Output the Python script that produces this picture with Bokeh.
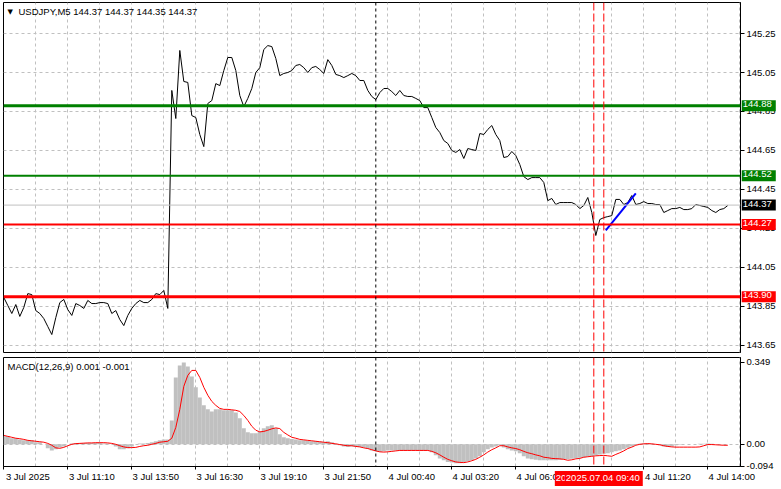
from bokeh.plotting import figure
from bokeh.layouts import column, row
from bokeh.models import Range1d, FixedTicker, Span, Label, Grid, LinearAxis
from bokeh.embed import file_html
from bokeh.resources import INLINE

# ---------------- data (USDJPY, M5 chart, sampled every 2 bars from 3 Jul 2025 08:30) -------------
symbol_title = "USDJPY,M5  144.37 144.37 144.35 144.37"
macd_title = "MACD(12,26,9) 0.001 -0.001"

price = [
    143.896, 143.855, 143.814, 143.860, 143.799, 143.845, 143.916, 143.911, 143.829, 143.814,
    143.788, 143.747, 143.706, 143.793, 143.870, 143.886, 143.834, 143.804, 143.865, 143.855,
    143.840, 143.881, 143.865, 143.865, 143.870, 143.870, 143.865, 143.814, 143.829, 143.783,
    143.752, 143.804, 143.840, 143.865, 143.881, 143.870, 143.870, 143.886, 143.916, 143.911,
    143.932, 143.840,
    144.958, 144.814, 145.163, 145.004, 144.999, 144.829, 144.819, 144.732, 144.670, 144.891,
    144.906, 144.993, 144.983, 145.060, 145.127, 145.127, 145.060, 144.932, 144.875, 144.917,
    144.968, 145.050, 145.075, 145.168, 145.188, 145.183, 145.122, 145.034, 145.045, 145.050,
    145.060, 145.086, 145.091, 145.075, 145.050, 145.075, 145.081, 145.065, 145.045, 145.116,
    145.086, 145.040, 145.034, 145.024, 145.034, 145.045, 145.034, 145.009, 145.009, 144.958,
    144.927, 144.911, 144.947, 144.968, 144.968, 144.952, 144.932, 144.958, 144.932, 144.927,
    144.927, 144.917, 144.906, 144.870, 144.870, 144.819, 144.768, 144.742, 144.701, 144.686,
    144.650, 144.640, 144.655, 144.609, 144.660, 144.655, 144.650, 144.737, 144.732, 144.758,
    144.778, 144.732, 144.701, 144.614, 144.619, 144.645, 144.624, 144.578, 144.516, 144.501,
    144.511, 144.511, 144.511, 144.486, 144.393, 144.404, 144.373, 144.383, 144.383, 144.383,
    144.383, 144.373, 144.352, 144.368, 144.409, 144.332, 144.214, 144.296, 144.306, 144.311,
    144.316, 144.399, 144.399, 144.373, 144.383, 144.419, 144.373, 144.378, 144.388, 144.378,
    144.378, 144.373, 144.373, 144.332, 144.342, 144.352, 144.352, 144.358, 144.347, 144.347,
    144.352, 144.373, 144.368, 144.363, 144.358, 144.342, 144.332, 144.347, 144.352, 144.368,
]

macd_main = [
    0.034, 0.034, 0.026, 0.026, 0.021, 0.017, 0.017, 0.017, 0.009, 0.009,
    0.0, -0.017, -0.026, -0.021, -0.013, -0.009, 0.0, 0.004, 0.006, 0.006,
    0.006, 0.006, 0.006, 0.006, 0.006, 0.004, 0.004, 0.0, -0.009, -0.021,
    -0.021, -0.017, -0.009, 0.0, 0.004, 0.004, 0.006, 0.009, 0.013, 0.017,
    0.021, 0.021, 0.102, 0.285, 0.336, 0.349, 0.332, 0.289, 0.243, 0.200,
    0.166, 0.149, 0.140, 0.149, 0.149, 0.145, 0.145, 0.145, 0.136, 0.111,
    0.068, 0.051, 0.047, 0.047, 0.055, 0.068, 0.077, 0.081, 0.068, 0.043,
    0.030, 0.026, 0.023, 0.021, 0.017, 0.017, 0.015, 0.013, 0.013, 0.011,
    0.009, 0.013, 0.009, 0.002, -0.004, -0.009, -0.011, -0.009, -0.009, -0.011,
    -0.013, -0.019, -0.026, -0.030, -0.032, -0.030, -0.026, -0.026, -0.026, -0.026,
    -0.026, -0.026, -0.026, -0.026, -0.026, -0.026, -0.026, -0.034, -0.047, -0.060,
    -0.068, -0.075, -0.077, -0.081, -0.081, -0.077, -0.072, -0.068, -0.060, -0.051,
    -0.034, -0.021, -0.013, -0.009, -0.004, -0.013, -0.021, -0.026, -0.030, -0.038,
    -0.051, -0.060, -0.064, -0.066, -0.068, -0.068, -0.068, -0.068, -0.068, -0.066,
    -0.064, -0.064, -0.062, -0.060, -0.057, -0.055, -0.053, -0.051, -0.047, -0.043,
    -0.040, -0.038, -0.034, -0.030, -0.026, -0.021, -0.015, -0.009, -0.002, 0.002,
    0.004, 0.004, 0.002, 0.0, -0.004, -0.009, -0.011, -0.009, -0.004, -0.002,
    0.0, 0.0, 0.0, 0.0, 0.002, 0.002, 0.004, 0.002, 0.0, 0.0, 0.0, 0.0,
]

macd_signal = [
    0.038, 0.034, 0.030, 0.026, 0.024, 0.021, 0.017, 0.015, 0.013, 0.011,
    0.009, 0.004, -0.004, -0.015, -0.017, -0.013, -0.006, 0.0, 0.003, 0.004,
    0.005, 0.006, 0.006, 0.007, 0.007, 0.007, 0.006, 0.004, 0.0, -0.006,
    -0.011, -0.014, -0.014, -0.013, -0.009, -0.006, -0.004, 0.0, 0.004, 0.009,
    0.011, 0.013, 0.026, 0.072, 0.149, 0.247, 0.294, 0.315, 0.315, 0.285,
    0.243, 0.209, 0.183, 0.166, 0.153, 0.149, 0.149, 0.147, 0.145, 0.140,
    0.123, 0.102, 0.077, 0.060, 0.053, 0.055, 0.060, 0.066, 0.070, 0.067,
    0.051, 0.040, 0.030, 0.026, 0.021, 0.019, 0.017, 0.015, 0.013, 0.011,
    0.009, 0.007, 0.004, 0.002, -0.001, -0.004, -0.006, -0.006, -0.009, -0.011,
    -0.015, -0.018, -0.023, -0.028, -0.032, -0.033, -0.032, -0.030, -0.028, -0.026,
    -0.026, -0.026, -0.026, -0.026, -0.026, -0.026, -0.026, -0.030, -0.036, -0.045,
    -0.055, -0.064, -0.070, -0.075, -0.077, -0.078, -0.075, -0.070, -0.064, -0.055,
    -0.045, -0.033, -0.023, -0.015, -0.006, -0.006, -0.011, -0.015, -0.018, -0.023,
    -0.030, -0.036, -0.040, -0.045, -0.049, -0.055, -0.057, -0.060, -0.061, -0.062,
    -0.064, -0.068, -0.066, -0.062, -0.060, -0.055, -0.053, -0.051, -0.049, -0.048,
    -0.047, -0.049, -0.051, -0.043, -0.036, -0.028, -0.018, -0.012, -0.004, 0.0,
    0.002, 0.003, 0.002, 0.0, -0.002, -0.006, -0.009, -0.011, -0.012, -0.012,
    -0.012, -0.012, -0.012, -0.012, -0.011, -0.006, -0.001, -0.001, -0.002, -0.003, -0.004, -0.004,
]

bars = list(range(0, 2 * len(price), 2))   # 5-minute bar index of each sample

time_tick_bars = [0, 32, 64, 96, 128, 160, 192, 224, 256, 288, 320, 352]
time_tick_labels = ["3 Jul 2025", "3 Jul 11:10", "3 Jul 13:50", "3 Jul 16:30", "3 Jul 19:10",
                    "3 Jul 21:50", "4 Jul 00:40", "4 Jul 03:20", "4 Jul 06:00", "4 Jul 08:40",
                    "4 Jul 11:20", "4 Jul 14:00"]
grid_bars = list(range(16, 369, 16))
price_ticks = [143.65, 143.85, 144.05, 144.25, 144.45, 144.65, 144.85, 145.05, 145.25]
macd_ticks = [-0.094, 0.0, 0.349]
macd_tick_labels = ["-0.094", "0.00", "0.349"]

resistance_levels = [144.88, 144.52]
support_levels = [144.27, 143.90]
bid_price = 144.37
day_break_bar = 186
marker_bars = [295, 300]
marker_times = ["2025.07.04 09:15", "2025.07.04 09:40"]
trend_bars = [301, 316]
trend_prices = [144.24, 144.43]

# ---------------- styling / layout ----------------
FONT = "Liberation Sans"
FS = "9.5px"
W = 781
RB = 41
LB = 3
H1, H2 = 354, 135
XB = 23
FRAME_H1 = H1 - 2 - 2
FRAME_H2 = H2 - 3 - XB
GRID_C = "#C0C0C0"
GREEN = "#008000"
RED = "#FF0000"
LABEL_SHIFT = 12          # MT4 draws time labels to the right of their tick

xr = Range1d(-0.15, 368.35)
price_range = Range1d(143.614, 145.409)
macd_range = Range1d(-0.0945, 0.370)


def base_style(p, yticks, ylabels):
    p.grid.visible = False
    p.add_layout(Grid(dimension=0, ticker=FixedTicker(ticks=grid_bars),
                      grid_line_color=GRID_C, grid_line_dash="3 3"))
    p.add_layout(Grid(dimension=1, ticker=FixedTicker(ticks=yticks),
                      grid_line_color=GRID_C, grid_line_dash="3 3"))
    p.outline_line_color = "black"
    p.background_fill_color = "white"
    p.border_fill_color = "white"
    ya = p.yaxis[0]
    ya.ticker = FixedTicker(ticks=yticks)
    ya.major_label_overrides = {t: s for t, s in zip(yticks, ylabels)}
    ya.major_label_text_font = FONT
    ya.major_label_text_font_size = FS
    ya.major_label_text_color = "black"
    ya.major_tick_out = 4
    ya.major_tick_in = 0
    ya.minor_tick_out = 0
    ya.minor_tick_in = 0
    ya.major_label_standoff = 2
    ya.axis_line_color = "black"
    ya.major_tick_line_color = "black"


def overlay_fig(**kw):
    f = figure(output_backend="svg", toolbar_location=None,
               x_axis_location=None, y_axis_location=None, **kw)
    f.grid.visible = False
    f.background_fill_color = None
    f.border_fill_color = None
    f.outline_line_color = None
    return f


# ---------------- price panel ----------------
p1 = figure(width=W, height=H1, x_range=xr, y_range=price_range,
            x_axis_location=None, y_axis_location="right",
            output_backend="svg", toolbar_location=None,
            min_border_left=LB, min_border_right=RB, min_border_top=2, min_border_bottom=2)
base_style(p1, price_ticks, [f"{t:.2f}" for t in price_ticks])

p1.add_layout(Span(location=bid_price, dimension="width", line_color=GRID_C, line_width=1))
p1.add_layout(Span(location=resistance_levels[0], dimension="width", line_color=GREEN, line_width=3))
p1.add_layout(Span(location=resistance_levels[1], dimension="width", line_color=GREEN, line_width=2))
p1.add_layout(Span(location=support_levels[0], dimension="width", line_color=RED, line_width=2))
p1.add_layout(Span(location=support_levels[1], dimension="width", line_color=RED, line_width=3))

p1.line(bars, price, line_color="black", line_width=1)
p1.line(trend_bars, trend_prices, line_color="#0000FF", line_width=2)

p1.add_layout(Label(x=4, y=FRAME_H1 - 9, x_units="screen", y_units="screen", text="\u25BC",
                    text_font="DejaVu Sans", text_font_size="7px", text_color="black",
                    text_baseline="middle"))
p1.add_layout(Label(x=15, y=FRAME_H1 - 9, x_units="screen", y_units="screen", text=symbol_title,
                    text_font=FONT, text_font_size=FS, text_color="black",
                    text_baseline="middle"))

# price tags drawn over the price scale (transparent strip laid over the axis area)
ptags = overlay_fig(width=RB, height=H1, x_range=Range1d(0, 1), y_range=price_range,
                    min_border_left=0, min_border_right=0, min_border_top=2, min_border_bottom=2,
                    margin=(0, 0, 0, -RB))
tags = [(resistance_levels[0], GREEN), (resistance_levels[1], GREEN), (bid_price, "black"),
        (support_levels[0], RED), (support_levels[1], RED)]
for lvl, col in tags:
    ptags.add_layout(Label(x=0.03, y=lvl, x_units="data", y_units="data",
                           text=f"{lvl:.2f}", text_color="white", text_font=FONT,
                           text_font_size=FS, text_baseline="middle", text_align="left",
                           background_fill_color=col, padding=(1, 4, 1, 4)))

# ---------------- MACD panel ----------------
p2 = figure(width=W, height=H2, x_range=xr, y_range=macd_range,
            x_axis_location="below", y_axis_location="right",
            output_backend="svg", toolbar_location=None,
            min_border_left=LB, min_border_right=RB, min_border_top=3, min_border_bottom=XB)
base_style(p2, [0.0], ["0.00"])
ya2 = p2.yaxis[0]
ya2.ticker = FixedTicker(ticks=macd_ticks)
ya2.major_label_overrides = {t: s for t, s in zip(macd_ticks, macd_tick_labels)}

# tick marks only
xa = p2.xaxis[0]
xa.ticker = FixedTicker(ticks=time_tick_bars)
xa.major_label_overrides = {t: "" for t in time_tick_bars}
xa.major_label_text_font_size = "1px"
xa.major_label_standoff = 0
xa.major_tick_out = 3
xa.major_tick_in = 0
xa.minor_tick_out = 0
xa.minor_tick_in = 0
xa.axis_line_color = "black"
xa.major_tick_line_color = "black"

# labels, left-aligned to their ticks
label_ticks = [b + LABEL_SHIFT for b in time_tick_bars]
xb = LinearAxis(ticker=FixedTicker(ticks=label_ticks),
                major_label_overrides={t: s for t, s in zip(label_ticks, time_tick_labels)},
                major_label_text_font=FONT, major_label_text_font_size=FS,
                major_label_text_color="black", major_label_standoff=1,
                major_tick_out=0, major_tick_in=0, minor_tick_out=0, minor_tick_in=0,
                axis_line_color=None, major_tick_line_color=None)
p2.add_layout(xb, "below")

p2.vbar(x=bars, top=macd_main, bottom=0, width=2, fill_color=GRID_C, line_color=None)
p2.line(bars, macd_signal, line_color=RED, line_width=1)

p2.add_layout(Label(x=4, y=FRAME_H2 - 9, x_units="screen", y_units="screen", text=macd_title,
                    text_font=FONT, text_font_size=FS, text_color="black",
                    text_baseline="middle"))

for p in (p1, p2):
    p.add_layout(Span(location=day_break_bar, dimension="height", line_color="black",
                      line_width=1, line_dash="3 3"))
    for mb in marker_bars:
        p.add_layout(Span(location=mb, dimension="height", line_color=RED,
                          line_width=1, line_dash="8 3"))

# time tags drawn over the time scale (transparent strip laid over the axis area)
ptime = overlay_fig(width=W, height=XB, x_range=xr, y_range=Range1d(0, 1),
                    min_border_left=LB, min_border_right=RB, min_border_top=0, min_border_bottom=0,
                    margin=(-XB, 0, 0, 0))
for mb, mt in zip(marker_bars, marker_times):
    ptime.add_layout(Label(x=mb, y=0.48, x_units="data", y_units="data",
                           text=mt, text_color="white", text_font=FONT, text_font_size=FS,
                           text_baseline="middle", text_align="center",
                           background_fill_color=RED, padding=(1, 3, 1, 3)))

layout = column(row(p1, ptags, spacing=0), p2, ptime, spacing=0)
open("out.html", "w").write(file_html(layout, INLINE))
